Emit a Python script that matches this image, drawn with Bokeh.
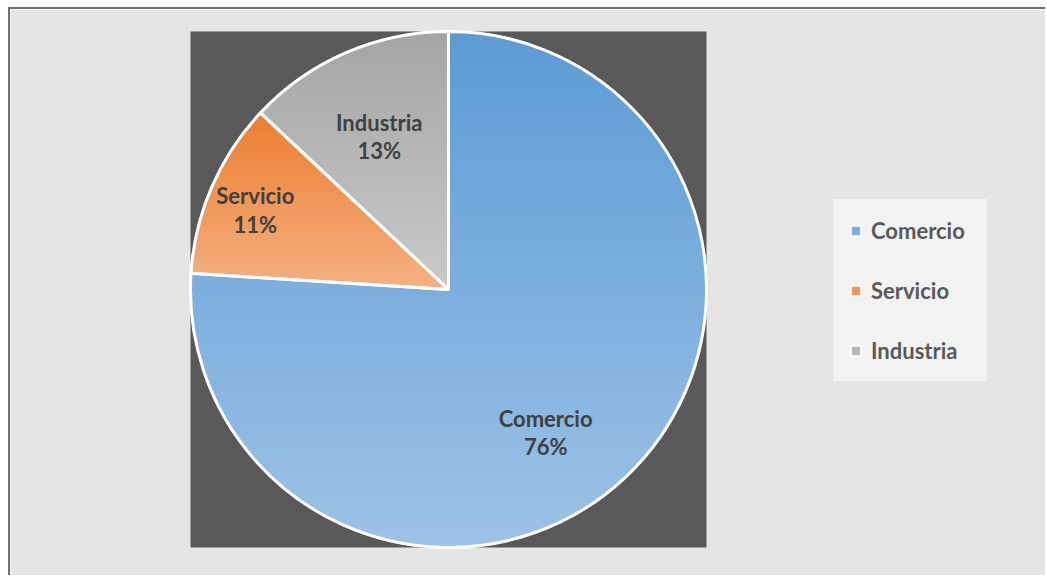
import numpy as np
from bokeh.plotting import figure
from bokeh.models import ColumnDataSource, Legend, LegendItem, BoxAnnotation
from bokeh.core.properties import value
from bokeh.embed import file_html
from bokeh.resources import INLINE

# ---- data ----
categories = ["Comercio", "Servicio", "Industria"]
values = [76, 11, 13]

# ---- styles ----
top_colors = ["#5b9bd5", "#ed7d31", "#a5a5a5"]
bottom_colors = ["#9dc3e6", "#f4b183", "#c9c9c9"]
label_r = [0.67, 0.81, 0.65]
label_turn_deg = [-9.0, 1.0, 1.0]


def hex2rgb(h):
    h = h.lstrip("#")
    return np.array([int(h[i:i + 2], 16) for i in (0, 2, 4)], dtype=float)


def mix(c1, c2, t):
    c = hex2rgb(c1) * (1 - t) + hex2rgb(c2) * t
    return "#%02x%02x%02x" % tuple(int(round(v)) for v in c)


def clip(poly, y, keep_above):
    out = []
    n = len(poly)
    for i in range(n):
        P = poly[i]
        Q = poly[(i + 1) % n]
        pin = P[1] >= y if keep_above else P[1] <= y
        qin = Q[1] >= y if keep_above else Q[1] <= y
        if pin:
            out.append(P)
        if pin != qin:
            t = (y - P[1]) / (Q[1] - P[1])
            out.append((P[0] + t * (Q[0] - P[0]), y))
    return out


total = float(sum(values))
fracs = np.array(values, dtype=float) / total
cum = np.concatenate([[0.0], np.cumsum(fracs)])
start_angles = np.pi / 2 - 2 * np.pi * cum[:-1]
end_angles = np.pi / 2 - 2 * np.pi * cum[1:]
mid_colors = [mix(a, b, 0.5) for a, b in zip(top_colors, bottom_colors)]
R = 1.0

# layout: canvas 1037x568, pie radius 258 px, plot area at canvas (180,22)
W, H, S = 1037, 568, 258.0
x0 = -1 - 180 / S
y1 = 1 + 22 / S
p = figure(width=W, height=H, x_range=(x0, x0 + W / S), y_range=(y1 - H / S, y1),
           x_axis_location=None, y_axis_location=None,
           toolbar_location=None, output_backend="svg",
           min_border=0)
p.grid.visible = False
p.background_fill_color = "#e5e5e5"
p.border_fill_color = "#e5e5e5"
p.outline_line_color = None
p.styles = {"margin-left": "8px", "margin-top": "7px",
            "border-left": "2px solid #6f6f6f", "border-top": "2px solid #6f6f6f"}

# dark plot area behind the pie
p.add_layout(BoxAnnotation(left=-R, right=R, bottom=-R, top=R,
                           fill_color="#595959", fill_alpha=1.0,
                           line_color=None, level="underlay"))

src = ColumnDataSource(dict(cat=categories, val=values, start=start_angles,
                            end=end_angles, color=mid_colors))
base = p.wedge(x=0, y=0, radius=R, start_angle="start", end_angle="end",
               direction="clock", fill_color="color", line_color="white",
               line_width=2, source=src)

# gradient bands (vertical gradient per slice)
bxs, bys, bcols = [], [], []
for i in range(len(values)):
    a0, a1 = start_angles[i], end_angles[i]
    th = np.linspace(a0, a1, 200)
    poly = [(0.0, 0.0)] + [(R * np.cos(t), R * np.sin(t)) for t in th]
    ys = [q[1] for q in poly]
    ytop, ybot = max(ys), min(ys)
    nb = 90
    edges = np.linspace(ytop, ybot, nb + 1)
    for k in range(nb):
        hi, lo = edges[k], edges[k + 1]
        piece = clip(poly, hi, keep_above=False)
        piece = clip(piece, lo, keep_above=True)
        if len(piece) < 3:
            continue
        bxs.append([q[0] for q in piece])
        bys.append([q[1] for q in piece])
        bcols.append(mix(top_colors[i], bottom_colors[i], (k + 0.5) / nb))

p.patches(xs=bxs, ys=bys, fill_color=bcols, line_color=bcols, line_width=1)

# white slice outlines
p.wedge(x=0, y=0, radius=R, start_angle="start", end_angle="end",
        direction="clock", fill_alpha=0, line_color="white", line_width=3,
        source=src)

# data labels
mids = (start_angles + end_angles) / 2 + np.radians(label_turn_deg)
lx = np.array(label_r) * np.cos(mids)
ly = np.array(label_r) * np.sin(mids)
texts = [f"{c}\n{v / total * 100:.0f}%" for c, v in zip(categories, values)]
p.text(x=lx, y=ly, text=texts, text_align="center", text_baseline="middle",
       text_font=value("Lato"), text_font_style="bold", text_font_size="22px",
       text_color="#404040", text_line_height=1.05)

legend = Legend(items=[LegendItem(label=c, renderers=[base], index=i)
                       for i, c in enumerate(categories)],
                location=(823, 196), orientation="vertical",
                background_fill_color="#f2f2f2", background_fill_alpha=1.0,
                border_line_color="#f2f2f2", border_line_width=10,
                border_line_join="miter",
                padding=6, spacing=30, margin=0,
                glyph_width=13, glyph_height=13, label_height=30,
                label_width=100, label_standoff=9, label_text_font="Lato",
                label_text_font_style="bold", label_text_font_size="22px",
                label_text_color="#595959", label_text_baseline="middle")
p.add_layout(legend, "center")

open("out.html", "w").write(file_html(p, INLINE))
